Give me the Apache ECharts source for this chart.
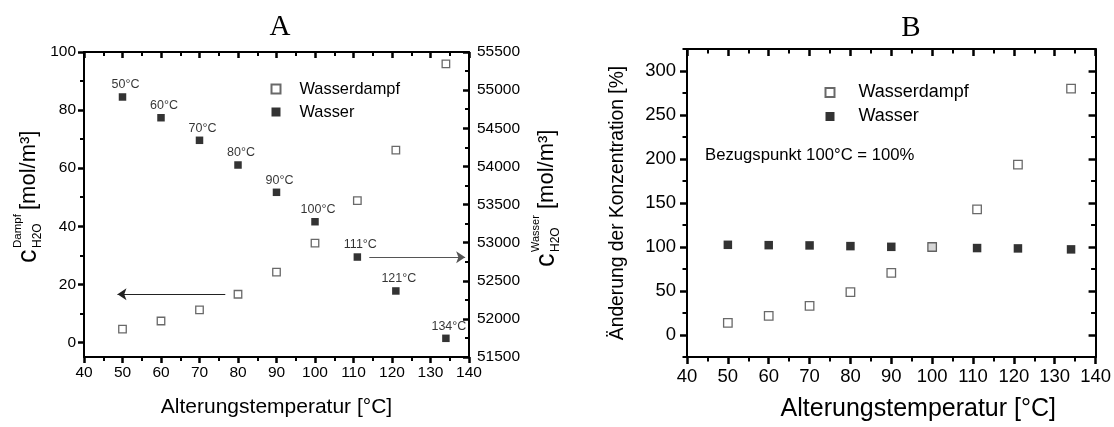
<!DOCTYPE html>
<html>
<head>
<meta charset="utf-8">
<script src="https://cdn.jsdelivr.net/npm/echarts@6/dist/echarts.min.js"></script>
<style>html,body{margin:0;padding:0;background:#fff;}#c{width:1114px;height:427px;}</style>
</head>
<body>
<div id="c"></div>
<script>
// ---- data ----
const temps = [50, 60, 70, 80, 90, 100, 111, 121, 134];
const dampfA = [4.6, 7.4, 11.2, 16.6, 24.2, 34.2, 48.8, 66.2, 95.9];          // mol/m3 (left axis)
const wasserA = [54910, 54638, 54342, 54018, 53660, 53274, 52811, 52366, 51745]; // mol/m3 (right axis)
const dampfB = [13.8, 21.7, 33, 48.8, 70.5, 100, 142.8, 193.6, 280];          // %
const wasserB = [102.5, 102.1, 101.8, 101, 100.2, 100, 98.8, 98.4, 97.3];     // %
const leftTicksA = [0, 20, 40, 60, 80, 100];
const leftMinorA = [10, 30, 50, 70, 90];
const leftTicksB = [0, 50, 100, 150, 200, 250, 300];
const leftMinorB = [-25, 25, 75, 125, 175, 225, 275, 325];
const arrowLeft = [[76.7, 16.6], [48.7, 16.6]];
const arrowRight = [[114.1, 29.3], [139.0, 29.3]];

const FONT = 'Liberation Sans, Arial, sans-serif';
const TICK = '#000';
const toPairs = (xs, ys) => xs.map((x, i) => [x, ys[i]]);
const plain = v => String(v);

function axisLineCfg() { return { show: true, onZero: false, lineStyle: { color: '#000', width: 2 } }; }
function xAxisBase(grid, pos, fs, showLabel) {
  return {
    gridIndex: grid, type: 'value', position: pos, min: 40, max: 140, interval: 10,
    axisLine: axisLineCfg(),
    axisTick: { show: true, inside: pos === 'top', length: grid === 0 ? 6 : 7, lineStyle: { color: TICK, width: 2.5 } },
    minorTick: { show: true, splitNumber: 2, length: grid === 0 ? 4 : 4.5, lineStyle: { color: TICK, width: 2 } },
    splitLine: { show: false }, minorSplitLine: { show: false },
    axisLabel: { show: showLabel, fontSize: fs, fontFamily: FONT, color: '#000', margin: grid === 0 ? 8 : 10, formatter: plain }
  };
}

const xAxes = [
  Object.assign(xAxisBase(0, 'bottom', 15.5, true), {
    name: 'Alterungstemperatur [°C]', nameLocation: 'middle', nameGap: 40,
    nameTextStyle: { fontSize: 21, fontFamily: FONT, color: '#000' }
  }),
  xAxisBase(0, 'top', 15.5, false),
  Object.assign(xAxisBase(1, 'bottom', 18.5, true), {
    name: 'Alterungstemperatur [°C]', nameLocation: 'middle', nameGap: 40,
    nameTextStyle: { fontSize: 25, fontFamily: FONT, color: '#000', padding: [0, 0, 0, 54] }
  }),
  xAxisBase(1, 'top', 18.5, false)
];

function yAxisCustom(grid, pos, min, max, ticks, labels, inside, len, fs, margin, showLine) {
  return {
    gridIndex: grid, type: 'value', position: pos, min, max,
    axisLine: showLine ? axisLineCfg() : { show: false },
    axisTick: { show: true, inside, length: len, customValues: ticks, lineStyle: { color: TICK, width: len > 5 ? 2.5 : 2 } },
    axisLabel: labels ? { show: true, customValues: labels, fontSize: fs, fontFamily: FONT, color: '#000', margin, formatter: plain } : { show: false },
    splitLine: { show: false }
  };
}

const yAxes = [
  yAxisCustom(0, 'left', -5, 100, leftTicksA, leftTicksA, false, 6, 15.5, 8, true),        // 0 A left
  {                                                                                          // 1 A right
    gridIndex: 0, type: 'value', position: 'right', min: 51500, max: 55500, interval: 500,
    axisLine: axisLineCfg(),
    axisTick: { show: true, inside: true, length: 6, lineStyle: { color: TICK, width: 2.5 } },
    minorTick: { show: true, splitNumber: 2, length: 4, lineStyle: { color: TICK, width: 2 } },
    axisLabel: { fontSize: 15.5, fontFamily: FONT, color: '#000', margin: 8, formatter: plain },
    splitLine: { show: false }, minorSplitLine: { show: false }
  },
  yAxisCustom(0, 'left', -5, 100, leftMinorA, null, false, 4, 15.5, 8, false),            // 2 A left minor
  Object.assign(yAxisCustom(1, 'left', -25, 325, leftTicksB, leftTicksB, false, 7, 18.5, 11, true), {
    name: 'Änderung der Konzentration [%]', nameLocation: 'middle', nameGap: 60,
    nameTextStyle: { fontSize: 19.3, fontFamily: FONT, color: '#000' }
  }),                                                                                        // 3 B left
  yAxisCustom(1, 'right', -25, 325, leftTicksB, null, true, 7, 18.5, 8, true),             // 4 B right
  yAxisCustom(1, 'left', -25, 325, leftMinorB, null, false, 4.5, 18.5, 8, false),          // 5 B left minor
  yAxisCustom(1, 'right', -25, 325, leftMinorB, null, true, 4.5, 18.5, 8, false)           // 6 B right minor
];

const openStyle = { color: '#fff', borderColor: '#444', borderWidth: 1.3 };
const fillStyle = { color: '#000' };

function subTitle(cx, yb, sup, sub, supFs) {
  return {
    type: 'group', x: cx, y: yb, rotation: Math.PI / 2,
    children: [
      { type: 'text', x: 0, y: 0, style: { text: 'c', fontSize: 27, fontFamily: FONT, fill: '#000', textAlign: 'left', textVerticalAlign: 'middle' } },
      { type: 'text', x: 15, y: -11, style: { text: sup, fontSize: supFs, fontFamily: FONT, fill: '#000', textAlign: 'left', textVerticalAlign: 'middle' } },
      { type: 'text', x: 15, y: 9, style: { text: sub, fontSize: 12, fontFamily: FONT, fill: '#000', textAlign: 'left', textVerticalAlign: 'middle' } },
      { type: 'text', x: sup.length > 5 ? 58 : 53, y: 0, style: { text: '[mol/m³]', fontSize: 22, fontFamily: FONT, fill: '#000', textAlign: 'left', textVerticalAlign: 'middle' } }
    ]
  };
}

const option = {
  animation: false,
  backgroundColor: '#fff',
  grid: [
    { left: 84, right: 645, top: 52, bottom: 70 },
    { left: 687, right: 17, top: 49, bottom: 66 }
  ],
  xAxis: xAxes,
  yAxis: yAxes,
  legend: [
    {
      data: ['Wasserdampf', 'Wasser'], orient: 'vertical', left: 265.5, top: 75,
      itemWidth: 9, itemHeight: 9, itemGap: 5, selectedMode: false,
      textStyle: { fontSize: 16.4, fontFamily: FONT, color: '#000', lineHeight: 18, padding: [0, 0, 0, 14] }
    },
    {
      data: ['Wasserdampf', 'Wasser'], orient: 'vertical', left: 819.5, top: 78,
      itemWidth: 9, itemHeight: 9, itemGap: 5, selectedMode: false,
      textStyle: { fontSize: 18, fontFamily: FONT, color: '#000', lineHeight: 19, padding: [0, 0, 0, 19] }
    }
  ],
  graphic: [
    { type: 'text', x: 280, y: 27, style: { text: 'A', fontSize: 29, fontFamily: 'Liberation Serif, serif', fill: '#000', textAlign: 'center', textVerticalAlign: 'middle' } },
    { type: 'text', x: 911, y: 28, style: { text: 'B', fontSize: 29, fontFamily: 'Liberation Serif, serif', fill: '#000', textAlign: 'center', textVerticalAlign: 'middle' } },
    { type: 'text', x: 705, y: 155, style: { text: 'Bezugspunkt 100°C = 100%', fontSize: 16.7, fontFamily: FONT, fill: '#000', textAlign: 'left', textVerticalAlign: 'middle' } },
    subTitle(29, 263, 'Dampf', 'H2O', 11.5),
    subTitle(547, 267, 'Wasser', 'H2O', 11)
  ],
  series: [
    {
      name: 'Wasser', type: 'scatter', xAxisIndex: 0, yAxisIndex: 1, symbol: 'rect', symbolSize: 7.5,
      itemStyle: fillStyle, data: toPairs(temps, wasserA), z: 3,
      label: { show: true, position: 'top', distance: 2, offset: [3, 0], fontSize: 12.5, fontFamily: FONT, color: '#000',
        formatter: p => temps[p.dataIndex] + '°C' }
    },
    {
      name: 'Wasserdampf', type: 'scatter', xAxisIndex: 0, yAxisIndex: 0, symbol: 'rect', symbolSize: 7.5,
      itemStyle: openStyle, data: toPairs(temps, dampfA), z: 4,
      markLine: {
        silent: true, symbol: ['none', 'arrow'], symbolSize: 9,
        lineStyle: { color: '#222', width: 1, type: 'solid' }, label: { show: false },
        data: [
          [{ coord: arrowLeft[0] }, { coord: arrowLeft[1] }],
          [{ coord: arrowRight[0] }, { coord: arrowRight[1], lineStyle: { color: '#555' } }]
        ]
      }
    },
    {
      name: 'Wasser', type: 'scatter', xAxisIndex: 2, yAxisIndex: 3, symbol: 'rect', symbolSize: 8.5,
      itemStyle: fillStyle, data: toPairs(temps, wasserB), z: 3
    },
    {
      name: 'Wasserdampf', type: 'scatter', xAxisIndex: 2, yAxisIndex: 3, symbol: 'rect', symbolSize: 8.5,
      itemStyle: openStyle, data: toPairs(temps, dampfB), z: 4
    }
  ]
};

const chart = echarts.init(document.getElementById('c'), null, { renderer: 'canvas' });
chart.setOption(option);
</script>
</body>
</html>
